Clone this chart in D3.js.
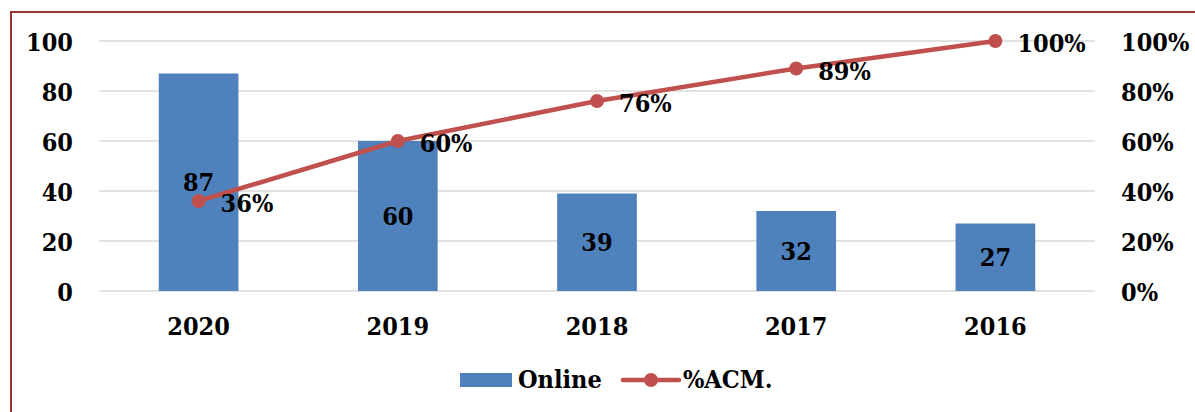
<!DOCTYPE html>
<html>
<head>
<meta charset="utf-8">
<script src="https://cdn.jsdelivr.net/npm/d3@7"></script>
<style>
  body { margin: 0; background: #fff; }
  text { font-family: "DejaVu Serif Condensed", "Liberation Serif", serif; font-weight: bold; fill: #000; }
</style>
</head>
<body>
<script>
var years = ["2020", "2019", "2018", "2017", "2016"];
var online = [87, 60, 39, 32, 27];
var acm = [36, 60, 76, 89, 100];
var leftTicks = [0, 20, 40, 60, 80, 100];
var rightTicks = [0, 20, 40, 60, 80, 100];

var width = 1195,
    height = 412;

var svg = d3.select("body").append("svg")
    .attr("width", width)
    .attr("height", height);

// frame
svg.append("rect")
    .attr("x", 11).attr("y", 12)
    .attr("width", width + 10).attr("height", height + 10)
    .attr("fill", "none")
    .attr("stroke", "#953735")
    .attr("stroke-width", 2);

var x = d3.scaleBand().domain(years).range([99, 1095]).paddingInner(0.6).paddingOuter(0.3);
var xc = function(d) { return x(d) + x.bandwidth() / 2; };
var y = d3.scaleLinear().domain([0, 100]).range([291, 41]);
var y2 = d3.scaleLinear().domain([0, 100]).range([291, 41]);

// grid
svg.append("g").selectAll("line")
    .data(leftTicks)
  .enter().append("line")
    .attr("x1", 99).attr("x2", 1095)
    .attr("y1", function(d) { return y(d); })
    .attr("y2", function(d) { return y(d); })
    .attr("stroke", "#d9d9d9")
    .attr("stroke-width", 1.5);

// left axis
var yAxis = svg.append("g")
    .attr("transform", "translate(99,0)")
    .call(d3.axisLeft(y).tickValues(leftTicks).tickSize(0).tickPadding(26));
yAxis.select(".domain").remove();
yAxis.selectAll("text").style("font-size", "25px").attr("dy", "0.36em");

// right axis
var yAxis2 = svg.append("g")
    .attr("transform", "translate(1095,0)")
    .call(d3.axisRight(y2).tickValues(rightTicks).tickSize(0).tickPadding(26)
      .tickFormat(function(d) { return d + "%"; }));
yAxis2.select(".domain").remove();
yAxis2.selectAll("text").style("font-size", "25px").attr("dy", "0.36em");

// x axis
var xAxis = svg.append("g")
    .attr("transform", "translate(0,291)")
    .call(d3.axisBottom(x).tickSize(0).tickPadding(26));
xAxis.select(".domain").remove();
xAxis.selectAll("text").style("font-size", "25px");

// bars
svg.append("g").selectAll("rect")
    .data(online)
  .enter().append("rect")
    .attr("x", function(d, i) { return x(years[i]); })
    .attr("width", x.bandwidth())
    .attr("y", function(d) { return y(d); })
    .attr("height", function(d) { return y(0) - y(d); })
    .attr("fill", "#4f81bd");

svg.append("g").selectAll("text")
    .data(online)
  .enter().append("text")
    .attr("x", function(d, i) { return xc(years[i]); })
    .attr("y", function(d) { return (y(d) + y(0)) / 2; })
    .attr("dy", "0.36em")
    .attr("text-anchor", "middle")
    .style("font-size", "25px")
    .text(function(d) { return d; });

// line
var line = d3.line()
    .x(function(d, i) { return xc(years[i]); })
    .y(function(d) { return y2(d); });

svg.append("path")
    .datum(acm)
    .attr("d", line)
    .attr("fill", "none")
    .attr("stroke", "#c0504d")
    .attr("stroke-width", 4.5)
    .attr("stroke-linejoin", "round");

svg.append("g").selectAll("circle")
    .data(acm)
  .enter().append("circle")
    .attr("cx", function(d, i) { return xc(years[i]); })
    .attr("cy", function(d) { return y2(d); })
    .attr("r", 7)
    .attr("fill", "#c0504d");

svg.append("g").selectAll("text")
    .data(acm)
  .enter().append("text")
    .attr("x", function(d, i) { return xc(years[i]) + 22; })
    .attr("y", function(d) { return y2(d) + 2; })
    .attr("dy", "0.36em")
    .style("font-size", "25px")
    .text(function(d) { return d + "%"; });

// legend
var legend = svg.append("g");
legend.append("rect")
    .attr("x", 460).attr("y", 373)
    .attr("width", 52).attr("height", 14)
    .attr("fill", "#4f81bd");
legend.append("text")
    .attr("x", 518).attr("y", 388)
    .style("font-size", "25px")
    .text("Online");
legend.append("line")
    .attr("x1", 623).attr("x2", 679)
    .attr("y1", 380).attr("y2", 380)
    .attr("stroke", "#c0504d")
    .attr("stroke-width", 4.5)
    .attr("stroke-linecap", "round");
legend.append("circle")
    .attr("cx", 651).attr("cy", 380).attr("r", 7)
    .attr("fill", "#c0504d");
legend.append("text")
    .attr("x", 683).attr("y", 388)
    .style("font-size", "25px")
    .text("%ACM.");
</script>
</body>
</html>
